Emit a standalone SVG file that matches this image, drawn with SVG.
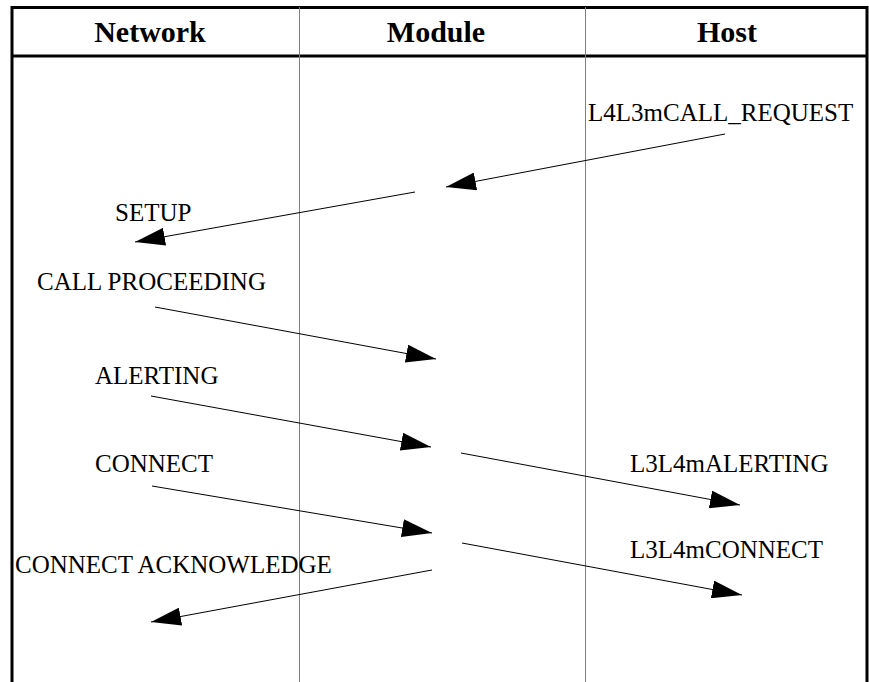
<svg xmlns="http://www.w3.org/2000/svg" width="869" height="682" viewBox="0 0 869 682">
<style>
.hdr{font-family:"Liberation Serif","Times New Roman",serif;font-weight:bold;font-size:30px;fill:#000;text-anchor:middle}
.lbl{font-family:"Liberation Serif","Times New Roman",serif;font-size:25px;fill:#000}
.frame{stroke:#000;stroke-width:3;fill:none}
.div{stroke:#808080;stroke-width:1;fill:none}
.msg{stroke:#000;stroke-width:1;fill:none;marker-end:url(#ah)}
</style>
<defs>
<marker id="ah" markerUnits="userSpaceOnUse" viewBox="0 0 30 18" markerWidth="30" markerHeight="18" refX="30" refY="9" orient="auto">
<path d="M0,0 L30,9 L0,18 z" fill="#000"/>
</marker>
</defs>
<rect width="869" height="682" fill="#fff"/>
<g id="frame">
<path class="frame" d="M12,682 V7.5 H867 V682"/>
<line class="frame" x1="12" y1="56" x2="867" y2="56"/>
<line class="div" x1="299.5" y1="7" x2="299.5" y2="682"/>
<line class="div" x1="585.5" y1="7" x2="585.5" y2="682"/>
</g>
<g id="lane-network"><text class="hdr" x="150" y="42">Network</text></g>
<g id="lane-module"><text class="hdr" x="436" y="42">Module</text></g>
<g id="lane-host"><text class="hdr" x="727" y="42">Host</text></g>
<g id="connectors">
<line class="msg" x1="725" y1="134" x2="446" y2="187"/>
<line class="msg" x1="415" y1="192" x2="135" y2="242"/>
<line class="msg" x1="155" y1="307" x2="436" y2="359"/>
<line class="msg" x1="151" y1="396" x2="431" y2="447"/>
<line class="msg" x1="152" y1="486" x2="432" y2="533"/>
<line class="msg" x1="461" y1="453" x2="740" y2="505"/>
<line class="msg" x1="462" y1="543" x2="742" y2="595"/>
<line class="msg" x1="432" y1="570" x2="151" y2="622"/>
</g>
<g id="labels">
<text class="lbl" x="588" y="121">L4L3mCALL_REQUEST</text>
<text class="lbl" x="115" y="221">SETUP</text>
<text class="lbl" x="37" y="290">CALL PROCEEDING</text>
<text class="lbl" x="95" y="384">ALERTING</text>
<text class="lbl" x="95" y="472">CONNECT</text>
<text class="lbl" x="630" y="472">L3L4mALERTING</text>
<text class="lbl" x="630" y="558">L3L4mCONNECT</text>
<text class="lbl" x="15" y="573">CONNECT ACKNOWLEDGE</text>
</g>
</svg>
